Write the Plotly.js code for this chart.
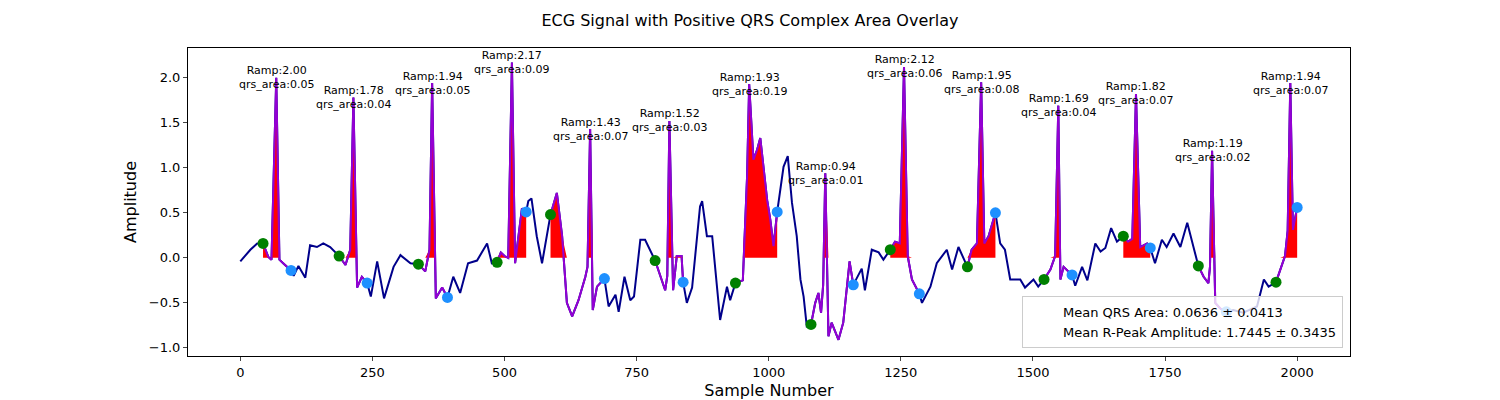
<!DOCTYPE html>
<html>
<head>
<meta charset="utf-8">
<script src="https://cdn.plot.ly/plotly-3.0.1.min.js"></script>
<style>body{margin:0;background:#fff;} #plot{width:1500px;height:400px;}</style>
</head>
<body>
<div id="plot"></div>
<script>
// ECG trace (sample number, amplitude)
var sampleIdx = [0,19,32,43,53,59,68,74,81,96,101,110,123,132,145,157,170,187,199,208,214,221,230,240,247,259,272,290,303,322,337,350,358,363,370,382,392,403,416,431,448,467,476,486,493,500,507,514,520,533,537,541,545,551,561,571,587,599,609,618,628,640,653,657,662,667,675,689,697,710,716,727,738,745,757,766,785,804,808,812,819,826,835,838,845,855,870,874,883,893,908,921,927,937,951,959,963,971,978,984,997,1003,1009,1016,1028,1036,1044,1053,1060,1066,1072,1080,1088,1094,1099,1103,1107,1113,1119,1132,1141,1153,1160,1176,1182,1195,1208,1217,1230,1239,1248,1256,1263,1271,1285,1290,1306,1318,1337,1347,1359,1369,1376,1384,1394,1402,1408,1416,1429,1438,1447,1457,1476,1485,1501,1510,1521,1533,1542,1548,1552,1558,1574,1580,1593,1603,1618,1628,1637,1648,1659,1671,1680,1688,1695,1703,1716,1722,1731,1744,1753,1766,1779,1792,1804,1813,1823,1832,1835,1839,1845,1854,1866,1879,1898,1924,1937,1946,1960,1968,1977,1982,1987,1992,2000];
var ecgAmp = [-0.04,0.09,0.16,0.16,0.01,-0.02,2.00,-0.02,-0.06,-0.14,-0.2,-0.09,-0.22,0.14,0.12,0.16,0.12,0.02,-0.08,0.09,1.78,-0.33,-0.21,-0.28,-0.43,-0.04,-0.45,-0.10,0.03,-0.06,-0.07,-0.15,0.09,1.94,-0.45,-0.33,-0.44,-0.21,-0.39,-0.06,-0.03,0.16,-0.06,-0.05,0.06,0.02,0.0,2.17,-0.06,0.55,0.50,0.51,0.63,0.66,0.24,-0.06,0.48,0.72,0.24,-0.50,-0.65,-0.47,-0.21,-0.1,1.43,-0.58,-0.32,-0.23,-0.54,-0.41,-0.60,-0.21,-0.47,-0.43,0.20,0.20,-0.03,-0.36,-0.2,1.52,-0.36,0.02,0.02,-0.27,-0.50,-0.33,0.57,0.63,0.24,0.24,-0.69,-0.32,-0.47,-0.28,-0.25,0.90,1.93,1.09,1.20,1.33,0.64,0.42,0.13,0.51,1.01,1.13,0.61,0.24,-0.24,-0.43,-0.76,-0.74,-0.50,-0.39,-0.61,-0.3,0.94,-0.87,-0.72,-0.91,-0.72,-0.04,-0.30,-0.12,-0.36,0.09,0.06,-0.02,0.09,0.18,0.16,2.12,0.02,-0.24,-0.40,-0.50,-0.32,-0.06,0.09,-0.13,0.12,-0.02,-0.10,0.09,0.16,1.95,0.16,0.24,0.50,0.16,0.09,-0.24,-0.24,-0.33,-0.24,-0.32,-0.24,-0.13,0.02,1.69,-0.24,-0.10,-0.19,-0.31,-0.10,-0.25,0.16,0.07,0.11,0.33,0.18,0.24,0.18,0.21,1.82,0.12,0.16,0.11,-0.06,0.20,0.12,0.27,0.12,0.39,0.12,-0.09,-0.21,-0.28,-0.1,1.19,-0.50,-0.56,-0.60,-0.58,-0.61,-0.54,-0.24,-0.32,-0.27,-0.13,0.02,0.3,1.94,0.31,0.56];

// per-beat points
var qOnset  = [43,187,337,486,587,785,937,1080,1230,1376,1521,1671,1813,1960];
var rPeak   = [68,214,363,514,662,812,963,1107,1256,1402,1548,1695,1839,1987];
var sOffset = [96,240,392,541,689,838,1016,1160,1285,1429,1574,1722,1866,2000];
var rAmp    = [2.00,1.78,1.94,2.17,1.43,1.52,1.93,0.94,2.12,1.95,1.69,1.82,1.19,1.94];
var qrsArea = [0.05,0.04,0.05,0.09,0.07,0.03,0.19,0.01,0.06,0.08,0.04,0.07,0.02,0.07];

var legendLabels = ['Mean QRS Area: 0.0636 ± 0.0413', 'Mean R-Peak Amplitude: 1.7445 ± 0.3435'];

function ampAt(s){
  var i = sampleIdx.indexOf(s);
  return i >= 0 ? ecgAmp[i] : 0;
}

var data = [];
data.push({x: sampleIdx, y: ecgAmp, mode: 'lines', line: {color: 'darkblue', width: 2}, showlegend: false, hoverinfo: 'skip'});

// red positive-area fills
for (var b = 0; b < qOnset.length; b++) {
  var fx = [], fy = [];
  sampleIdx.forEach(function(s, i){
    if (s >= qOnset[b] && s <= sOffset[b]) { fx.push(s); fy.push(Math.max(ecgAmp[i], 0)); }
  });
  data.push({x: fx, y: fy, mode: 'lines', fill: 'tozeroy', fillcolor: 'red', line: {width: 0, color: 'red'}, showlegend: false, hoverinfo: 'skip'});
}

// purple QRS segments
var px = [], py = [];
for (var b = 0; b < qOnset.length; b++) {
  sampleIdx.forEach(function(s, i){
    if (s >= qOnset[b] && s <= sOffset[b]) { px.push(s); py.push(ecgAmp[i]); }
  });
  px.push(null); py.push(null);
}
data.push({x: px, y: py, mode: 'lines', line: {color: 'darkviolet', width: 2}, showlegend: false, hoverinfo: 'skip'});

data.push({x: qOnset, y: qOnset.map(ampAt), mode: 'markers', marker: {color: 'green', size: 11}, showlegend: false});
data.push({x: sOffset, y: sOffset.map(ampAt), mode: 'markers', marker: {color: 'dodgerblue', size: 11}, showlegend: false});

legendLabels.forEach(function(t){
  data.push({x: [null], y: [null], mode: 'lines', line: {width: 0, color: 'rgba(0,0,0,0)'}, name: t, showlegend: true});
});

var annotations = rPeak.map(function(s, i){
  return {
    x: s, y: rAmp[i], xref: 'x', yref: 'y',
    text: 'Ramp:' + rAmp[i].toFixed(2) + '<br>qrs_area:' + qrsArea[i].toFixed(2),
    showarrow: false, yanchor: 'middle', xanchor: 'center',
    font: {size: 11, color: 'black'}
  };
});

var layout = {
  width: 1500, height: 400,
  margin: {l: 188, r: 150, t: 48, b: 44},
  paper_bgcolor: 'white', plot_bgcolor: 'white',
  font: {family: 'DejaVu Sans', size: 13, color: 'black'},
  title: {text: 'ECG Signal with Positive QRS Complex Area Overlay', font: {size: 16}, x: 0.5, y: 0.95, yanchor: 'middle'},
  xaxis: {
    range: [-99, 2100], tickvals: [0,250,500,750,1000,1250,1500,1750,2000],
    showgrid: false, zeroline: false, showline: true, mirror: true, linecolor: 'black',
    ticks: 'outside', ticklen: 4, title: {text: 'Sample Number', standoff: 6}
  },
  yaxis: {
    range: [-1.09, 2.33], tickvals: [-1,-0.5,0,0.5,1,1.5,2], tickformat: '.1f',
    showgrid: false, zeroline: false, showline: true, mirror: true, linecolor: 'black',
    ticks: 'outside', ticklen: 4, title: {text: 'Amplitude', standoff: 8}
  },
  legend: {
    x: 0.994, y: 0.025, xanchor: 'right', yanchor: 'bottom',
    bgcolor: 'rgba(255,255,255,0.8)', bordercolor: '#cccccc', borderwidth: 1,
    font: {size: 13}, itemwidth: 30
  },
  annotations: annotations,
  showlegend: true
};

Plotly.newPlot('plot', data, layout, {staticPlot: true});
</script>
</body>
</html>
